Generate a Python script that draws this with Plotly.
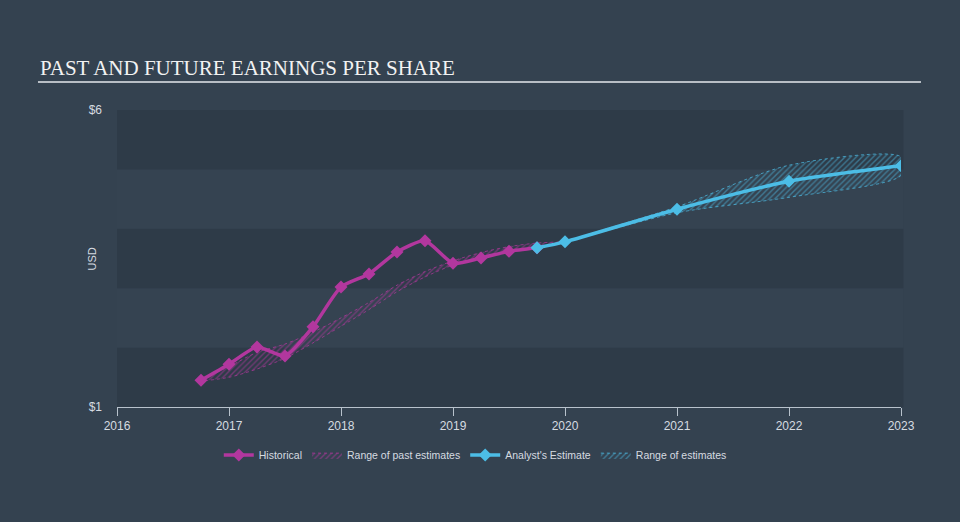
import plotly.graph_objects as go

# ---- data ----
hist_x = [2016.75, 2017.0, 2017.25, 2017.5, 2017.75, 2018.0, 2018.25, 2018.5, 2018.75,
          2019.0, 2019.25, 2019.5, 2019.75]
hist_y = [1.45, 1.72, 2.01, 1.86, 2.35, 3.02, 3.24, 3.61, 3.80, 3.42, 3.51, 3.62, 3.68]

past_rng_x = [2016.75, 2017.0, 2017.25, 2017.5, 2017.75, 2018.0, 2018.25, 2018.5, 2018.75,
              2019.0, 2019.25, 2019.5, 2019.75, 2020.0]
past_hi = [1.45, 1.68, 1.92, 2.06, 2.26, 2.50, 2.76, 3.05, 3.28, 3.46, 3.60, 3.70, 3.76, 3.78]
past_lo = [1.45, 1.50, 1.64, 1.82, 2.08, 2.36, 2.64, 2.94, 3.19, 3.39, 3.52, 3.62, 3.70, 3.78]

est_x = [2019.75, 2020.0, 2021.0, 2022.0, 2023.0]
est_y = [3.68, 3.78, 4.33, 4.80, 5.06]

fut_rng_x = [2020.0, 2021.0, 2022.0, 2023.0]
fut_hi = [3.78, 4.37, 5.07, 5.21]
fut_lo = [3.78, 4.27, 4.53, 4.90]

x_ticks = [2016, 2017, 2018, 2019, 2020, 2021, 2022, 2023]
y_ticks = [1, 6]
y_tick_text = ["$1", "$6"]

MAG = "#b2379e"
CYAN = "#4cbde6"
BG = "#344250"
BAND_DARK = "#2e3b48"
BAND_LIGHT = "#354351"
TXT = "#d6dbe0"

fig = go.Figure()

# past range (hatched)
fig.add_trace(go.Scatter(
    x=past_rng_x + past_rng_x[::-1], y=past_hi + past_lo[::-1],
    mode="lines", fill="toself", line=dict(color="rgba(178,55,158,0.9)", width=0.8, dash="dot", shape="spline", smoothing=0.8),
    fillcolor="rgba(0,0,0,0)",
    fillpattern=dict(shape="/", fgcolor="rgba(178,55,158,1)", bgcolor="rgba(0,0,0,0)", size=4, solidity=0.35),
    name="Range of past estimates", hoverinfo="skip", legendrank=2))

# future range (hatched)
fig.add_trace(go.Scatter(
    x=fut_rng_x + fut_rng_x[::-1], y=fut_hi + fut_lo[::-1],
    mode="lines", fill="toself", line=dict(color="rgba(76,189,230,0.9)", width=0.8, dash="dot", shape="spline", smoothing=0.8),
    fillcolor="rgba(0,0,0,0)",
    fillpattern=dict(shape="/", fgcolor="rgba(76,189,230,0.9)", bgcolor="rgba(0,0,0,0)", size=4, solidity=0.35),
    name="Range of estimates", hoverinfo="skip", legendrank=4))

fig.add_trace(go.Scatter(
    x=hist_x, y=hist_y, mode="lines+markers", name="Historical",
    line=dict(color=MAG, width=3.5, shape="spline", smoothing=0.6),
    marker=dict(symbol="diamond", size=10, color=MAG), legendrank=1))

fig.add_trace(go.Scatter(
    x=est_x, y=est_y, mode="lines+markers", name="Analyst's Estimate",
    line=dict(color=CYAN, width=3.5, shape="spline", smoothing=0.6),
    marker=dict(symbol="diamond", size=10, color=CYAN), legendrank=3))

# background bands
shapes = []
for k in range(5):
    shapes.append(dict(type="rect", xref="paper", yref="y", x0=0, x1=1.003, y0=1 + k, y1=2 + k,
                       fillcolor=BAND_DARK if k % 2 == 0 else BAND_LIGHT, line=dict(width=0), layer="below"))
# title underline
shapes.append(dict(type="line", xref="paper", yref="paper", x0=-0.1008, x1=1.0255, y0=1.094, y1=1.094,
                   line=dict(color="#b8bec5", width=2)))

fig.update_layout(
    width=960, height=522,
    paper_bgcolor=BG, plot_bgcolor=BG,
    margin=dict(l=117, r=59, t=110, b=115),
    shapes=shapes,
    showlegend=True,
    legend=dict(orientation="h", x=0.457, y=-0.162, xanchor="center", yanchor="middle",
                font=dict(family="Liberation Sans, Arial", size=10.5, color=TXT),
                bgcolor="rgba(0,0,0,0)", traceorder="normal", itemwidth=30),
    annotations=[
        dict(text="PAST AND FUTURE EARNINGS PER SHARE", xref="paper", yref="paper",
             x=-0.1008, y=1.143, xanchor="left", yanchor="middle", showarrow=False,
             font=dict(family="Liberation Serif, Times New Roman", size=21, color="#f2f2f2")),
        dict(text="USD", xref="paper", yref="paper", x=-0.032, y=0.5, textangle=-90,
             xanchor="center", yanchor="middle", showarrow=False,
             font=dict(family="Liberation Sans, Arial", size=11, color=TXT)),
    ],
)

fig.update_xaxes(range=[2016, 2023], tickvals=x_ticks, ticktext=[str(v) for v in x_ticks],
                 showgrid=False, zeroline=False, showline=True, linecolor="#b8c2cc", linewidth=1,
                 ticks="outside", ticklen=8, tickcolor="#b8c2cc",
                 tickfont=dict(family="Liberation Sans, Arial", size=12, color=TXT))
fig.update_yaxes(range=[1, 6], tickvals=y_ticks, ticktext=y_tick_text,
                 showgrid=False, zeroline=False, showline=False, ticks="", ticklabelstandoff=14,
                 tickfont=dict(family="Liberation Sans, Arial", size=12, color=TXT))

fig.write_html("out.html")
